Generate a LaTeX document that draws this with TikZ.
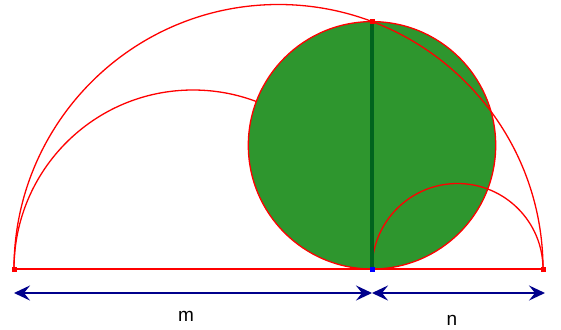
\documentclass[tikz,border=0pt]{standalone}
\usepackage{fontspec}
\setmainfont{Liberation Sans}
\usetikzlibrary{arrows.meta,calc}
\definecolor{discgreen}{RGB}{46,150,46}
\definecolor{heightgreen}{RGB}{0,100,30}
\definecolor{dimblue}{RGB}{0,0,140}

\begin{document}
\begin{tikzpicture}[
    x=1pt, y=-1pt,
    font=\fontsize{19}{22}\selectfont,
    arc/.style={draw=red, line width=1.3pt},
    disc/.style={draw=red, line width=1.3pt, fill=discgreen},
    height/.style={draw=heightgreen, line width=4.5pt},
    dimline/.style={draw=dimblue, line width=2.3pt, {Stealth[length=16pt,width=15pt,inset=6pt]}-{Stealth[length=16pt,width=15pt,inset=6pt]}},
    dotred/.style={fill=red, minimum size=5pt, inner sep=0pt},
    dotblue/.style={fill=blue, minimum size=5pt, inner sep=0pt}
]
\useasboundingbox (0,0) rectangle (561,329);

% --- Points ---
\coordinate (A) at (14,269);
\coordinate (C) at (372,269);
\coordinate (B) at (543,269);
\coordinate (D) at (372,21.6);
\coordinate (M) at (372,145.3);

% --- Arcs ---
\draw [arc] (A) arc[start angle=180, end angle=360, radius=179];
\draw [disc] (M) circle[radius=123.7];
\draw [arc] (A) arc[start angle=180, end angle=360, radius=264.5];
\draw [arc] (C) arc[start angle=180, end angle=360, radius=85.5];
\draw [arc] (A) -- (B);
\draw [height] (C) -- (D);

% --- Endpoints ---
\node (pA) at (A) [dotred] {};
\node (pB) at (B) [dotred] {};
\node (pD) at (D) [dotred] {};
\node (pC) at (C) [dotblue] {};

% --- Dimensions ---
\coordinate (dA) at (14,293);
\coordinate (dC) at (372,293);
\coordinate (dB) at (545,293);
\draw [dimline] (dA) -- (dC);
\draw [dimline] (dC) -- (dB);
\node (m) at (186,316) {m};
\node (n) at (452,320) {n};

\end{tikzpicture}
\end{document}
